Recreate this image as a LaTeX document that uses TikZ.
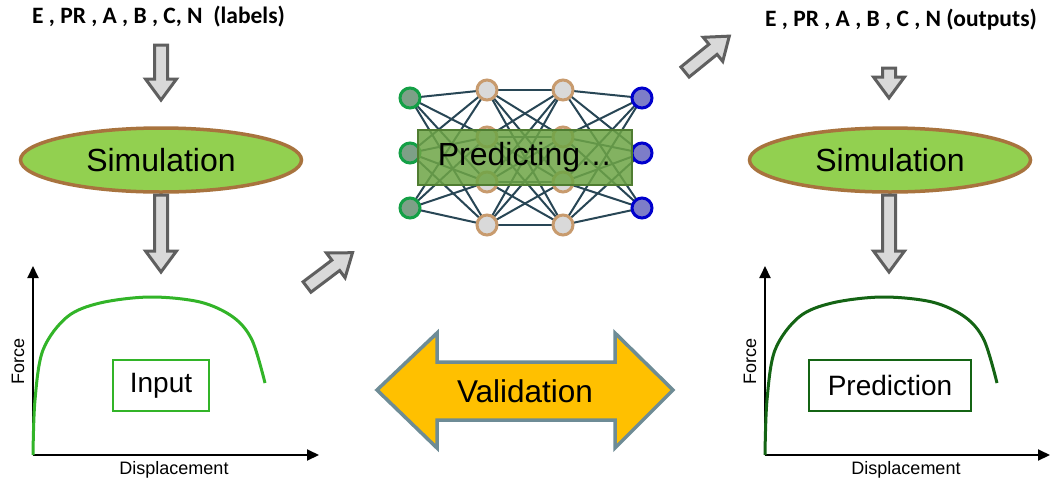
\documentclass[tikz,border=0pt]{standalone}
\usepackage{fontspec}
\setmainfont{Liberation Sans}
\newfontfamily\lblfont{Carlito}
\usetikzlibrary{arrows.meta,shapes.geometric}
\definecolor{ellfill}{RGB}{146,208,80}
\definecolor{ellbord}{RGB}{168,115,62}
\definecolor{arrfill}{RGB}{217,217,217}
\definecolor{arrbord}{RGB}{95,95,95}
\definecolor{infill}{RGB}{125,160,135}
\definecolor{inbord}{RGB}{20,160,70}
\definecolor{hidfill}{RGB}{217,217,217}
\definecolor{hidbord}{RGB}{200,155,110}
\definecolor{outfill}{RGB}{125,125,200}
\definecolor{outbord}{RGB}{0,0,205}
\definecolor{edgecol}{RGB}{40,70,85}
\definecolor{predfill}{RGB}{110,165,70}
\definecolor{predbord}{RGB}{80,125,50}
\definecolor{valfill}{RGB}{255,192,0}
\definecolor{valbord}{RGB}{110,140,150}
\definecolor{curveA}{RGB}{50,180,40}
\definecolor{curveB}{RGB}{20,100,20}
\newcommand\blkarrow[4]{% tail x, tail y, angle, length
  \begin{scope}[shift={(#1,#2)},rotate=#3]
    \draw[blkarr] (0,-6.5) -- (#4-21,-6.5) -- (#4-21,-15.5) -- (#4,0) -- (#4-21,15.5) -- (#4-21,6.5) -- (0,6.5) -- cycle;
  \end{scope}}
\begin{document}
\begin{tikzpicture}[x=1pt,y=-1pt,
  blkarr/.style={fill=arrfill,draw=arrbord,line width=3pt,line join=miter},
  simell/.style={ellipse,fill=ellfill,draw=ellbord,line width=3.5pt,minimum width=281pt,minimum height=64pt,font=\fontsize{32}{36}\selectfont,inner sep=0pt},
  toplbl/.style={font=\lblfont\bfseries\fontsize{23.5}{26}\selectfont,inner sep=0pt},
  innode/.style={circle,fill=infill,draw=inbord,line width=3pt,minimum size=20pt,inner sep=0pt},
  hidnode/.style={circle,fill=hidfill,draw=hidbord,line width=3pt,minimum size=20pt,inner sep=0pt},
  outnode/.style={circle,fill=outfill,draw=outbord,line width=3pt,minimum size=20pt,inner sep=0pt},
  nnedge/.style={draw=edgecol,line width=2pt},
  axis/.style={line width=2pt,-{Triangle[length=12pt,width=11pt]}},
  axlbl/.style={font=\fontsize{18}{20}\selectfont,inner sep=0pt},
  boxlbl/.style={font=\fontsize{28}{32}\selectfont,line width=2pt,inner sep=0pt,minimum height=51pt},
]
\useasboundingbox (0,0) rectangle (1062,493);
\fill[white] (0,0) rectangle (1062,493);

% top labels
\node[toplbl] (lblL) at (158.5,17) {E , PR , A , B , C, N~~(labels)};
\node[toplbl] (lblR) at (901,20) {E , PR , A , B , C , N (outputs)};

% simulation ellipses
\node[simell] (simL) at (161,160) {Simulation};
\node[simell] (simR) at (890,160) {Simulation};

% block arrows
\blkarrow{161}{45}{-90}{55}
\blkarrow{161}{195}{-90}{77}
\blkarrow{889}{68}{-90}{30}
\blkarrow{889}{195}{-90}{77}
\blkarrow{307}{287}{37}{57}
\blkarrow{685}{72}{39}{57}

% neural network: coordinates first, edges, then nodes on top
\foreach \n/\p in {i1/{410,98},i2/{410,153},i3/{410,208},
  h1/{487,90},h2/{487,137},h3/{487,182},h4/{487,225},
  g1/{563,90},g2/{563,137},g3/{563,182},g4/{563,225},
  o1/{642,98},o2/{642,153},o3/{642,208}}{\coordinate (\n) at (\p);}
\foreach \a in {i1,i2,i3}{\foreach \b in {h1,h2,h3,h4}{\draw[nnedge] (\a) -- (\b);}}
\foreach \a in {h1,h2,h3,h4}{\foreach \b in {g1,g2,g3,g4}{\draw[nnedge] (\a) -- (\b);}}
\foreach \a in {g1,g2,g3,g4}{\foreach \b in {o1,o2,o3}{\draw[nnedge] (\a) -- (\b);}}
\foreach \n in {i1,i2,i3}{\node[innode] (n\n) at (\n) {};}
\foreach \n in {h1,h2,h3,h4,g1,g2,g3,g4}{\node[hidnode] (n\n) at (\n) {};}
\foreach \n in {o1,o2,o3}{\node[outnode] (n\n) at (\n) {};}
\node[fill=predfill,fill opacity=0.85,text opacity=1,draw=predbord,line width=1.5pt,
  minimum width=214pt,minimum height=55pt,inner sep=0pt,font=\fontsize{32}{36}\selectfont] (pred) at (525,157.5) {Predicting…};

% validation double arrow
\draw[fill=valfill,draw=valbord,line width=3.5pt,line join=miter]
  (377,390) -- (437,333) -- (437,362) -- (615,362) -- (615,333) -- (673,390)
  -- (615,448) -- (615,420) -- (437,420) -- (437,448) -- cycle;
\node[font=\fontsize{31.5}{36}\selectfont,inner sep=0pt] (val) at (525,391) {Validation};

% left plot
\coordinate (oL) at (33,455);
\coordinate (yL) at (33,266);
\coordinate (xL) at (319,455);
\draw[axis] (oL) -- (yL);
\draw[axis] (oL) -- (xL);
\draw[curveA,line width=3pt] plot[smooth,tension=0.55] coordinates {(33,455) (35,400) (43,350) (67,317) (100,303) (150,297) (200,302) (233,317) (252,340) (265,383)};
\node[axlbl,rotate=90] (fL) at (18,361) {Force};
\node[axlbl] (dL) at (174,470) {Displacement};
\node[boxlbl,draw=curveA,minimum width=96pt] (inp) at (161,385.5) {Input};

% right plot
\coordinate (oR) at (765,455);
\coordinate (yR) at (765,266);
\coordinate (xR) at (1050,455);
\draw[axis] (oR) -- (yR);
\draw[axis] (oR) -- (xR);
\draw[curveB,line width=3pt] plot[smooth,tension=0.55] coordinates {(765,455) (767,400) (775,350) (799,317) (832,303) (882,297) (932,302) (965,317) (984,340) (997,383)};
\node[axlbl,rotate=90] (fR) at (750,361) {Force};
\node[axlbl] (dR) at (906,470) {Displacement};
\node[boxlbl,draw=curveB,minimum width=162pt] (prd) at (890,385.5) {Prediction};
\end{tikzpicture}
\end{document}
